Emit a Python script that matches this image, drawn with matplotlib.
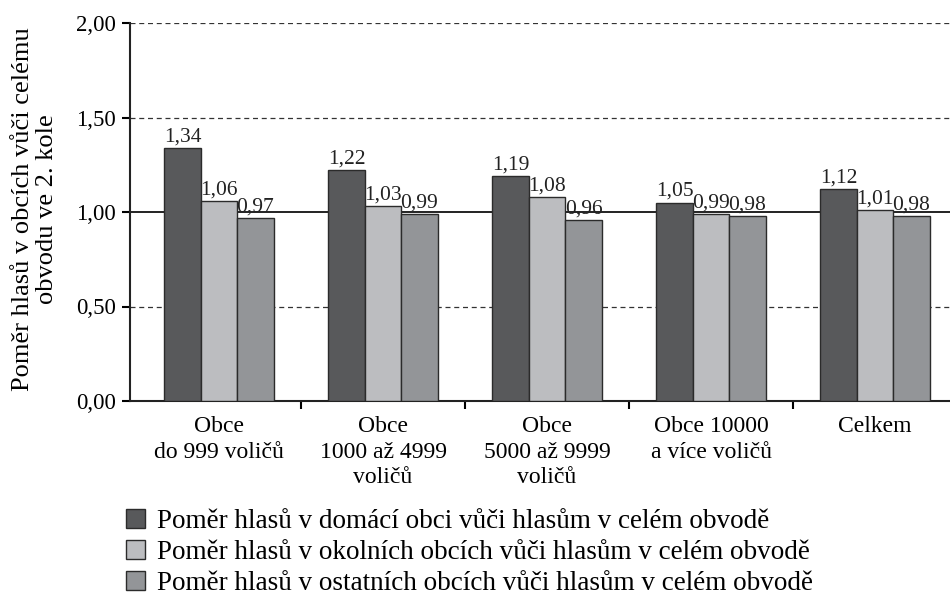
import numpy as np
import matplotlib.pyplot as plt

plt.rcParams['font.family'] = ['Liberation Serif', 'DejaVu Serif']

# Data
categories = ['Obce\ndo 999 voličů', 'Obce\n1000 až 4999\nvoličů',
              'Obce\n5000 až 9999\nvoličů', 'Obce 10000\na více voličů', 'Celkem']
domaci = [1.34, 1.22, 1.19, 1.05, 1.12]
okolni = [1.06, 1.03, 1.08, 0.99, 1.01]
ostatni = [0.97, 0.99, 0.96, 0.98, 0.98]
series_names = ['Poměr hlasů v domácí obci vůči hlasům v celém obvodě',
                'Poměr hlasů v okolních obcích vůči hlasům v celém obvodě',
                'Poměr hlasů v ostatních obcích vůči hlasům v celém obvodě']
colors = ['#58595b', '#bcbdc0', '#939598']

fig = plt.figure(figsize=(9.5, 6), dpi=100)
ax = fig.add_axes([130/950, 1-401/600, 1-130/950, (401-23)/600])

x = np.arange(len(categories))
w = 0.222
bars = []
for k, vals in enumerate([domaci, okolni, ostatni]):
    b = ax.bar(x + (k-1)*w, vals, w, color=colors[k], edgecolor='#2b2b2b',
               linewidth=1.0, label=series_names[k], zorder=3)
    bars.append(b)
    for xi, v in zip(x + (k-1)*w, vals):
        ax.text(xi, v + 0.008, ('%.2f' % v).replace('.', ','), ha='center',
                va='bottom', fontsize=15.5, color='#222222', zorder=4)

# grid lines
for yv in [0.5, 1.5, 2.0]:
    ax.axhline(yv, color='#333333', lw=0.9, ls=(0, (4, 3)), zorder=1)
ax.axhline(1.0, color='#222222', lw=1.4, zorder=2)

ax.set_xlim(-0.543, 4.457)
ax.set_ylim(0, 2.0)
ax.set_yticks([0, 0.5, 1.0, 1.5, 2.0])
ax.set_yticklabels(['0,00', '0,50', '1,00', '1,50', '2,00'], fontsize=16.5)
ax.set_xticks(x)
ax.set_xticklabels(categories, fontsize=17, linespacing=1.28)
ax.set_xticks(x[:-1] + 0.5, minor=True)
ax.tick_params(axis='x', which='major', length=0, pad=11)
ax.tick_params(axis='x', which='minor', length=6, width=1.5, direction='out')
ax.tick_params(axis='y', length=6, width=1.5, direction='out', pad=4)
for s in ['top', 'right']:
    ax.spines[s].set_visible(False)
ax.spines['left'].set_linewidth(1.5)
ax.spines['bottom'].set_linewidth(1.5)
ax.spines['left'].set_color('#222222')
ax.spines['bottom'].set_color('#222222')

fig.text(35/950, 1-209/600, 'Poměr hlasů v obcích vůči celému\nobvodu ve 2. kole',
         rotation=90, ha='center', va='center', fontsize=19, linespacing=1.08)

fig.legend(handles=bars, labels=series_names, loc='upper left',
           bbox_to_anchor=(126/950, 1-509/600), frameon=False, fontsize=19.5,
           borderpad=0, borderaxespad=0,
           handlelength=0.7, handleheight=0.7, handletextpad=0.44,
           labelspacing=0.22)

fig.savefig('out.png', dpi=100)
